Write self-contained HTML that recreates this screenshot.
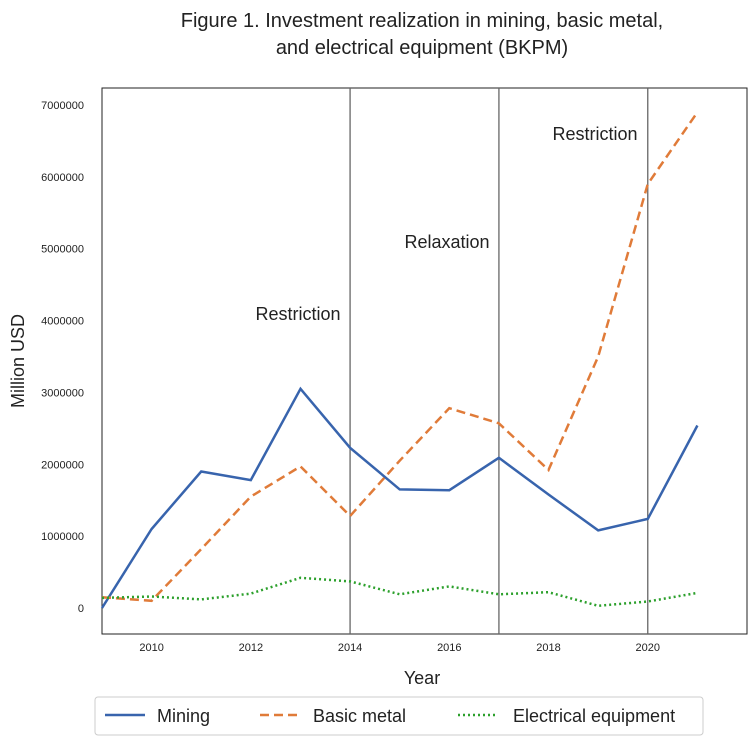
<!DOCTYPE html>
<html><head><meta charset="utf-8"><style>
body{margin:0;background:#fff;font-family:"Liberation Sans",sans-serif;}
svg text{font-family:"Liberation Sans",sans-serif;}
</style></head><body>
<svg id="c" width="754" height="745">
<text x="422" y="27" text-anchor="middle" font-size="20" fill="#222">Figure 1. Investment realization in mining, basic metal,</text>
<text x="422" y="54" text-anchor="middle" font-size="20" fill="#222">and electrical equipment (BKPM)</text>
<rect x="102" y="88" width="645" height="546" fill="none" stroke="#222" stroke-width="1"/>
<g id="ticks"></g>
<g id="vlines"></g>
<g id="series"></g>
<text transform="translate(24,361) rotate(-90)" text-anchor="middle" font-size="18" fill="#222">Million USD</text>
<text x="422" y="684" text-anchor="middle" font-size="18" fill="#222">Year</text>
<text x="298" y="320" text-anchor="middle" font-size="18" fill="#222">Restriction</text>
<text x="447" y="248" text-anchor="middle" font-size="18" fill="#222">Relaxation</text>
<text x="595" y="140" text-anchor="middle" font-size="18" fill="#222">Restriction</text>
<g>
<rect x="95" y="697" width="608" height="38" rx="3" fill="#fff" stroke="#ccc"/>
<line x1="105" y1="715" x2="145" y2="715" stroke="#3864ad" stroke-width="2.5"/>
<text x="157" y="722" font-size="18" fill="#222">Mining</text>
<line x1="260" y1="715" x2="300" y2="715" stroke="#e07b39" stroke-width="2.5" stroke-dasharray="9,5"/>
<text x="313" y="722" font-size="18" fill="#222">Basic metal</text>
<line x1="458" y1="715" x2="498" y2="715" stroke="#2ca02c" stroke-width="2.5" stroke-dasharray="2,3"/>
<text x="513" y="722" font-size="18" fill="#222">Electrical equipment</text>
</g>
</svg>
<script>
const years=[2009,2010,2011,2012,2013,2014,2015,2016,2017,2018,2019,2020,2021];
const mining=[0,1100000,1900000,1780000,3050000,2230000,1650000,1640000,2090000,1580000,1080000,1240000,2540000];
const basicMetal=[150000,100000,820000,1550000,1970000,1280000,2050000,2780000,2570000,1920000,3500000,5900000,6900000];
const electrical=[140000,160000,120000,200000,420000,370000,190000,300000,190000,220000,30000,90000,210000];
const xTicks=[2010,2012,2014,2016,2018,2020];
const yTicks=[0,1000000,2000000,3000000,4000000,5000000,6000000,7000000];
const policyYears=[2014,2017,2020];
const NS="http://www.w3.org/2000/svg";
const X=v=>102+(v-2009)*(645/13);
const Y=v=>608-v*503/7000000;
function mk(t,a,p){const e=document.createElementNS(NS,t);for(const k in a)e.setAttribute(k,a[k]);p.appendChild(e);return e;}
const tg=document.getElementById('ticks');
xTicks.forEach(t=>{const e=mk('text',{x:X(t),y:651,'text-anchor':'middle','font-size':11,fill:'#222'},tg);e.textContent=t;

});
yTicks.forEach(t=>{const e=mk('text',{x:84,y:Y(t)+4,'text-anchor':'end','font-size':11,fill:'#222'},tg);e.textContent=t;

});
const vg=document.getElementById('vlines');
policyYears.forEach(y=>{const e=mk('line',{x1:X(y),x2:X(y),y1:88,y2:634,stroke:'#666','stroke-width':1.3},vg);

});
const sg=document.getElementById('series');
function line(vals,color,dash,name){const d=vals.map((v,i)=>(i?'L':'M')+X(years[i]).toFixed(1)+','+Y(v).toFixed(1)).join('');
const e=mk('path',{d:d,fill:'none',stroke:color,'stroke-width':2.5,'stroke-dasharray':dash},sg);

}
line(mining,'#3864ad','none','mining-line');
line(basicMetal,'#e07b39','9,5','basic-metal-line');
line(electrical,'#2ca02c','2,3','electrical-equipment-line');
</script>
</body></html>
